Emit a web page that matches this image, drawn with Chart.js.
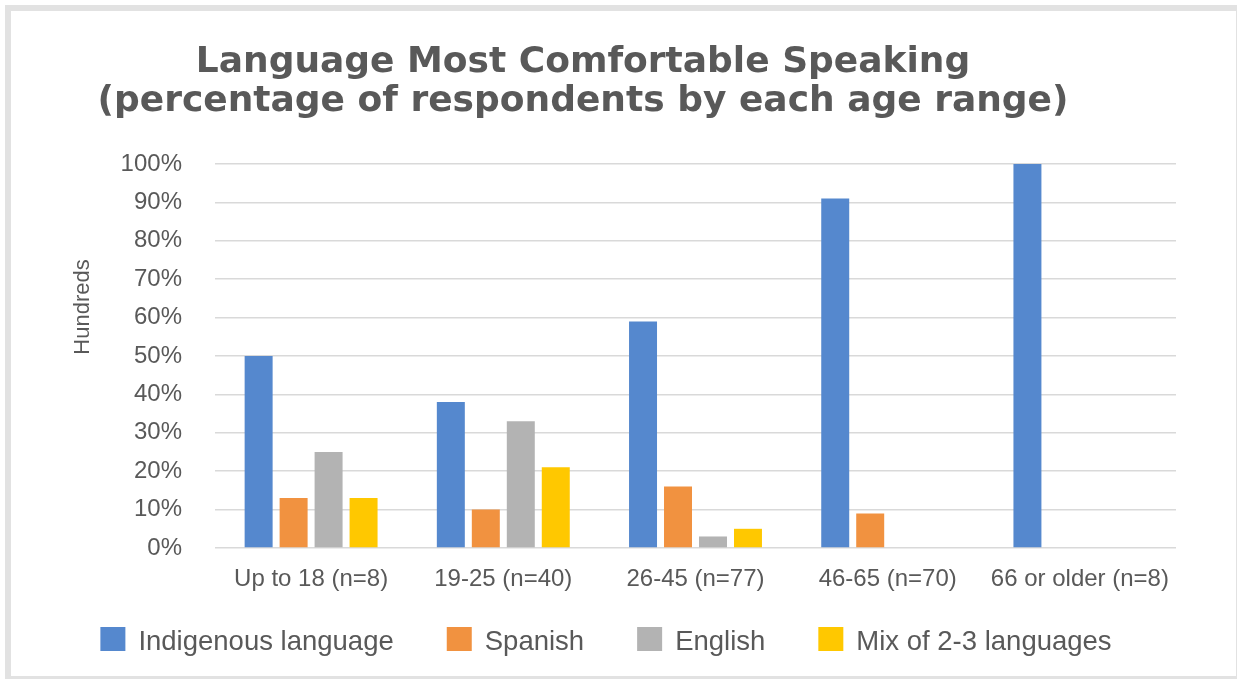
<!DOCTYPE html>
<html>
<head>
<meta charset="utf-8">
<script src="https://cdn.jsdelivr.net/npm/chart.js@4/dist/chart.umd.min.js"></script>
<style>
  html, body { margin: 0; padding: 0; background: #fff; }
  #frame {
    position: absolute; left: 5px; top: 5px; width: 1225px; height: 665px;
    border-style: solid; border-color: #e2e2e2;
    border-width: 6px 1px 3px 6px; background: #fff;
  }
  #langChart { position: absolute; left: 0; top: 0; }
</style>
</head>
<body>
<div id="frame"></div>
<canvas id="langChart" width="1238" height="679"></canvas>
<script>
const ageGroups = ['Up to 18 (n=8)', '19-25 (n=40)', '26-45 (n=77)', '46-65 (n=70)', '66 or older (n=8)'];
const indigenous = [50, 38, 59, 91, 100];
const spanish = [13, 10, 16, 9, 0];
const english = [25, 33, 3, 0, 0];
const mixed = [13, 21, 5, 0, 0];
const yTicks = ['0%', '10%', '20%', '30%', '40%', '50%', '60%', '70%', '80%', '90%', '100%'];

const textColor = '#595959';
const titleLines = ['Language Most Comfortable Speaking', '(percentage of respondents by each age range)'];

// title, rotated axis caption and legend are painted straight onto the canvas
const decorations = {
    id: 'decorations',
    afterDraw(chart) {
        const ctx = chart.ctx;
        ctx.save();
        ctx.fillStyle = textColor;

        ctx.font = 'bold 36px "DejaVu Sans"';
        ctx.textAlign = 'center';
        ctx.textBaseline = 'alphabetic';
        ctx.fillText(titleLines[0], 583, 72);
        ctx.fillText(titleLines[1], 583, 111);

        ctx.save();
        ctx.translate(83, 307);
        ctx.rotate(-Math.PI / 2);
        ctx.font = '22px "Liberation Sans"';
        ctx.textBaseline = 'middle';
        ctx.fillText('Hundreds', 0, 0);
        ctx.restore();

        ctx.font = '27.5px "Liberation Sans"';
        ctx.textAlign = 'left';
        const box = 25, boxGap = 13, itemGap = 53;
        const items = chart.data.datasets.map(ds => ({
            label: ds.label,
            color: ds.backgroundColor,
            width: box + boxGap + ctx.measureText(ds.label).width
        }));
        const total = items.reduce((s, it) => s + it.width, 0) + itemGap * (items.length - 1);
        let x = 606 - total / 2;
        items.forEach(it => {
            ctx.fillStyle = it.color;
            ctx.fillRect(x, 627, box, 24);
            ctx.fillStyle = textColor;
            ctx.fillText(it.label, x + box + boxGap, 650);
            x += it.width + itemGap;
        });
        ctx.restore();
    }
};

new Chart(document.getElementById('langChart').getContext('2d'), {
    type: 'bar',
    data: {
        labels: ageGroups,
        datasets: [
            { label: 'Indigenous language', data: indigenous, backgroundColor: '#5588ce' },
            { label: 'Spanish', data: spanish, backgroundColor: '#f19240' },
            { label: 'English', data: english, backgroundColor: '#b3b3b3' },
            { label: 'Mix of 2-3 languages', data: mixed, backgroundColor: '#ffc800' }
        ]
    },
    options: {
        responsive: false,
        devicePixelRatio: 1,
        animation: false,
        datasets: {
            bar: { barPercentage: 0.8, categoryPercentage: 0.728 }
        },
        layout: { padding: { top: 164, right: 62, bottom: 71, left: 0 } },
        plugins: {
            legend: { display: false },
            title: { display: false },
            tooltip: { enabled: false }
        },
        scales: {
            x: {
                grid: { display: false, drawTicks: false },
                border: { display: false },
                ticks: {
                    color: textColor,
                    font: { family: 'Liberation Sans', size: 24 },
                    padding: 17,
                    maxRotation: 0,
                    autoSkip: false
                },
                afterFit(scale) { scale.height = 60; }
            },
            y: {
                min: 0,
                max: 100,
                grid: { color: '#d9d9d9', lineWidth: 1.5, drawTicks: false },
                border: { display: false },
                ticks: {
                    stepSize: 10,
                    color: textColor,
                    font: { family: 'Liberation Sans', size: 24 },
                    padding: 33,
                    callback: (v, i) => yTicks[i]
                },
                afterFit(scale) { scale.width = 215; }
            }
        }
    },
    plugins: [decorations]
});
</script>
</body>
</html>
